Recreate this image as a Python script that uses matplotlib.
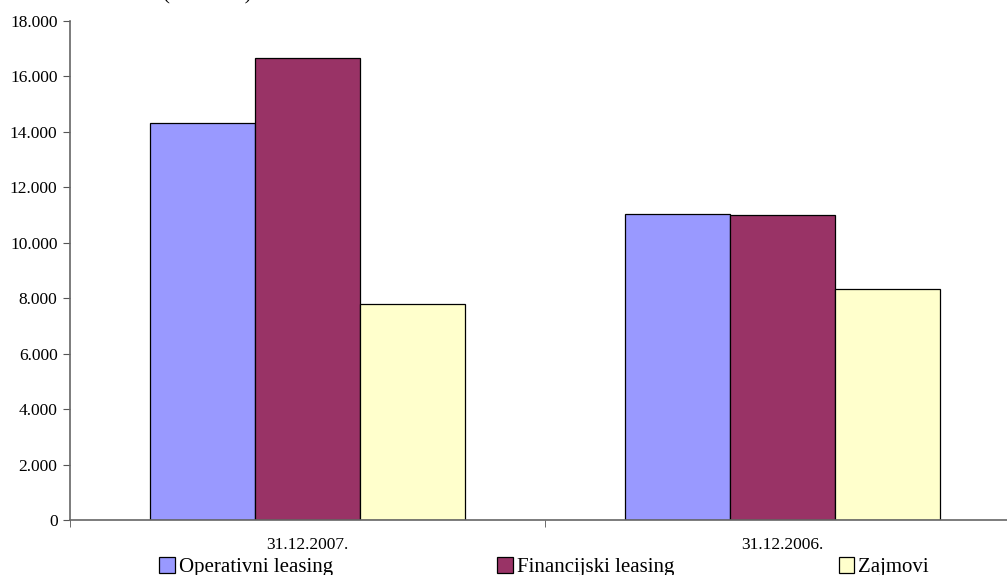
import numpy as np
import matplotlib.pyplot as plt
from matplotlib.patches import Patch
from matplotlib.ticker import FuncFormatter

categories = ['31.12.2007.', '31.12.2006.']
series = ['Operativni leasing', 'Financijski leasing', 'Zajmovi']
operativni = [14320, 11040]
financijski = [16660, 10990]
zajmovi = [7790, 8330]
colors = ['#9999FF', '#993366', '#FFFFCC']

plt.rcParams['font.family'] = ['Liberation Serif', 'DejaVu Serif']

fig = plt.figure(figsize=(10.07, 5.75), dpi=100)
ax = fig.add_axes([70 / 1007, 55 / 575, 950 / 1007, 499 / 575])

x = np.arange(len(categories))
w = 0.221
for i, (vals, c) in enumerate(zip([operativni, financijski, zajmovi], colors)):
    ax.bar(x + (i - 1) * w, vals, w, color=c, edgecolor='black', linewidth=0.9, label=series[i])

ax.set_xlim(-0.5, 1.5)
ax.set_ylim(0, 18000)
ax.set_yticks(np.arange(0, 18001, 2000))
ax.yaxis.set_major_formatter(FuncFormatter(lambda v, p: f'{int(v):,}'.replace(',', '.')))
ax.set_xticks(x)
ax.set_xticklabels(categories)
ax.set_xticks([-0.5, 0.5, 1.5], minor=True)
ax.tick_params(axis='x', which='major', length=0, pad=12, labelsize=12.5)
ax.tick_params(axis='x', which='minor', length=5, color='#555555')
ax.tick_params(axis='y', length=5, color='#555555', labelsize=12.5, pad=4)

for s in ['top', 'right']:
    ax.spines[s].set_visible(False)
for s in ['left', 'bottom']:
    ax.spines[s].set_color('#666666')
    ax.spines[s].set_linewidth(1.2)

handles = [Patch(facecolor=c, edgecolor='black', linewidth=0.9) for c in colors]
fig.legend(handles, series, loc='lower left', ncol=3, mode='expand',
           bbox_to_anchor=(159 / 1007, -0.004, 770 / 1007, 0.05),
           frameon=False, fontsize=15, handlelength=0.75, handleheight=0.75,
           handletextpad=0.2, borderpad=0, borderaxespad=0)

# axis unit label, cut off by the top edge in the original
fig.text(163 / 1007, 1 + 1 / 575, '(u mil. kn)', fontsize=15, va='baseline')

fig.savefig('out.png', dpi=100)
